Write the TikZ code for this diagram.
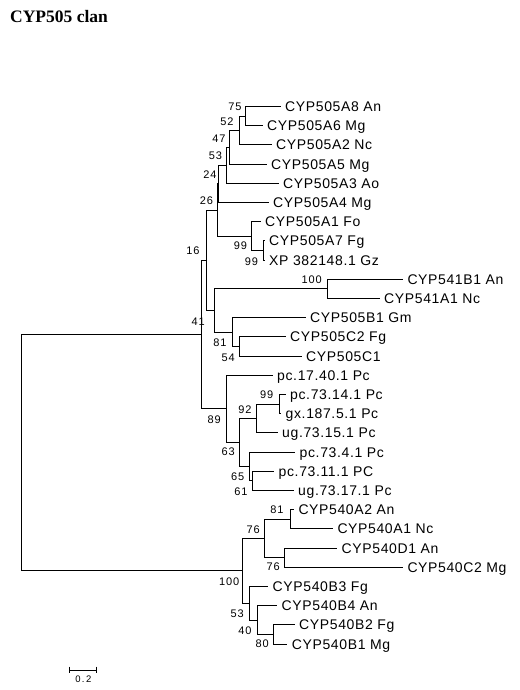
\documentclass[tikz,border=0pt]{standalone}
\usepackage{fontspec}
\newfontfamily\leaffont{Liberation Sans}[LetterSpace=4.5]
\newfontfamily\bsfont{Liberation Sans}[LetterSpace=8]
\newfontfamily\scalefont{Liberation Sans}[LetterSpace=15]
\newfontfamily\titlefont{Liberation Serif}
\tikzset{
  leaf/.style={anchor=west, inner xsep=4.5pt, inner ysep=0pt, text height=11pt, text depth=1pt,
    font=\leaffont\fontsize{14}{16}\selectfont},
  bs/.style={inner sep=0pt, font=\bsfont\fontsize{11}{12}\selectfont},
  br/.style={draw=black, line width=1pt},
}
\begin{document}
\begin{tikzpicture}[x=1pt,y=-1pt]
\useasboundingbox (0,0) rectangle (519,690);
\fill[white] (0,0) rectangle (519,690);
\node[anchor=base west, inner sep=0pt, font=\titlefont\bfseries\fontsize{17.5}{20}\selectfont] (title) at (10,22.5) {CYP505 clan};
% internal nodes
\coordinate (root) at (21.3,452.75);
\coordinate (R1) at (201.5,334.6);
\coordinate (N16) at (206.7,260.25);
\coordinate (N26) at (217,210);
\coordinate (N24) at (218.5,183.9);
\coordinate (N53) at (226.5,165.3);
\coordinate (N47) at (229.5,147.3);
\coordinate (N52) at (239,130.5);
\coordinate (N75) at (245,116.1);
\coordinate (N99a) at (251.7,236.1);
\coordinate (N99b) at (263,250.5);
\coordinate (N41) at (214.3,310.5);
\coordinate (N100u) at (327.7,288.9);
\coordinate (N81) at (232.3,332.1);
\coordinate (N54) at (239.3,346.5);
\coordinate (N89) at (226,408.9);
\coordinate (N63) at (239.3,442.5);
\coordinate (N92) at (256.7,418.5);
\coordinate (N99c) at (279.3,404.1);
\coordinate (N65) at (249.3,466.5);
\coordinate (N61) at (252.3,480.9);
\coordinate (L1) at (242.5,570.9);
\coordinate (N76a) at (264.3,538.5);
\coordinate (N81l) at (290.7,519.3);
\coordinate (N76b) at (284.5,557.7);
\coordinate (N53l) at (249.3,603.3);
\coordinate (N40) at (257.5,620.1);
\coordinate (N80) at (273.3,634.5);
% leaves
\node[leaf] (A8) at (280.5,106.5) {CYP505A8 An};
\node[leaf] (A6) at (262.5,125.7) {CYP505A6 Mg};
\node[leaf] (A2) at (271.5,144.9) {CYP505A2 Nc};
\node[leaf] (A5) at (266.5,164.1) {CYP505A5 Mg};
\node[leaf] (A3) at (278.5,183.3) {CYP505A3 Ao};
\node[leaf] (A4) at (268.5,202.5) {CYP505A4 Mg};
\node[leaf] (A1) at (260.5,221.7) {CYP505A1 Fo};
\node[leaf] (A7) at (264.5,240.9) {CYP505A7 Fg};
\node[leaf] (XP) at (264.5,260.1) {XP 382148.1 Gz};
\node[leaf] (B541) at (402.8,279.3) {CYP541B1 An};
\node[leaf] (A541) at (379.5,298.5) {CYP541A1 Nc};
\node[leaf] (B1g) at (305.5,317.7) {CYP505B1 Gm};
\node[leaf] (C2f) at (285.5,336.9) {CYP505C2 Fg};
\node[leaf] (C1) at (301.5,356.1) {CYP505C1};
\node[leaf] (p1) at (272.5,375.3) {pc.17.40.1 Pc};
\node[leaf] (p2) at (285.5,394.5) {pc.73.14.1 Pc};
\node[leaf] (p3) at (281,413.7) {gx.187.5.1 Pc};
\node[leaf] (p4) at (277.5,432.9) {ug.73.15.1 Pc};
\node[leaf] (p5) at (295,452.1) {pc.73.4.1 Pc};
\node[leaf] (p6) at (274,471.3) {pc.73.11.1 PC};
\node[leaf] (p7) at (293.5,490.5) {ug.73.17.1 Pc};
\node[leaf] (E1) at (293.8,509.7) {CYP540A2 An};
\node[leaf] (E2) at (332.8,528.9) {CYP540A1 Nc};
\node[leaf] (E3) at (337,548.1) {CYP540D1 An};
\node[leaf] (E4) at (402.8,567.3) {CYP540C2 Mg};
\node[leaf] (E5) at (268,586.5) {CYP540B3 Fg};
\node[leaf] (E6) at (277,605.7) {CYP540B4 An};
\node[leaf] (E7) at (294.5,624.9) {CYP540B2 Fg};
\node[leaf] (E8) at (287.2,644.1) {CYP540B1 Mg};
% branches
\draw[br] (root) |- (R1);
\draw[br] (root) |- (L1);
\draw[br] (R1) |- (N16);
\draw[br] (R1) |- (N89);
\draw[br] (N16) |- (N26);
\draw[br] (N16) |- (N41);
\draw[br] (N26) |- (N24);
\draw[br] (N26) |- (N99a);
\draw[br] (N24) |- (N53);
\draw[br] (N24) |- (A4.west);
\draw[br] (N53) |- (N47);
\draw[br] (N53) |- (A3.west);
\draw[br] (N47) |- (N52);
\draw[br] (N47) |- (A5.west);
\draw[br] (N52) |- (N75);
\draw[br] (N52) |- (A2.west);
\draw[br] (N75) |- (A8.west);
\draw[br] (N75) |- (A6.west);
\draw[br] (N99a) |- (A1.west);
\draw[br] (N99a) |- (N99b);
\draw[br] (N99b) |- (A7.west);
\draw[br] (N99b) |- (XP.west);
\draw[br] (N41) |- (N100u);
\draw[br] (N41) |- (N81);
\draw[br] (N100u) |- (B541.west);
\draw[br] (N100u) |- (A541.west);
\draw[br] (N81) |- (B1g.west);
\draw[br] (N81) |- (N54);
\draw[br] (N54) |- (C2f.west);
\draw[br] (N54) |- (C1.west);
\draw[br] (N89) |- (p1.west);
\draw[br] (N89) |- (N63);
\draw[br] (N63) |- (N92);
\draw[br] (N63) |- (N65);
\draw[br] (N92) |- (N99c);
\draw[br] (N92) |- (p4.west);
\draw[br] (N99c) |- (p2.west);
\draw[br] (N99c) |- (p3.west);
\draw[br] (N65) |- (p5.west);
\draw[br] (N65) |- (N61);
\draw[br] (N61) |- (p6.west);
\draw[br] (N61) |- (p7.west);
\draw[br] (L1) |- (N76a);
\draw[br] (L1) |- (N53l);
\draw[br] (N76a) |- (N81l);
\draw[br] (N76a) |- (N76b);
\draw[br] (N81l) |- (E1.west);
\draw[br] (N81l) |- (E2.west);
\draw[br] (N76b) |- (E3.west);
\draw[br] (N76b) |- (E4.west);
\draw[br] (N53l) |- (E5.west);
\draw[br] (N53l) |- (N40);
\draw[br] (N40) |- (E6.west);
\draw[br] (N40) |- (N80);
\draw[br] (N80) |- (E7.west);
\draw[br] (N80) |- (E8.west);
% bootstrap values
\node[bs] (b75) at (235,107) {75};
\node[bs] (b52) at (227,122) {52};
\node[bs] (b47) at (219,138.5) {47};
\node[bs] (b53) at (215.5,155.5) {53};
\node[bs] (b24) at (210,175) {24};
\node[bs] (b26) at (206.5,201) {26};
\node[bs] (b16) at (193,251) {16};
\node[bs] (b99a) at (240.5,246) {99};
\node[bs] (b99b) at (251.5,262) {99};
\node[bs] (b100u) at (311.7,280) {100};
\node[bs] (b41) at (198.3,321.7) {41};
\node[bs] (b81) at (220,342.7) {81};
\node[bs] (b54) at (228.3,357.7) {54};
\node[bs] (b99c) at (266.7,394.3) {99};
\node[bs] (b92) at (245,409.3) {92};
\node[bs] (b89) at (214.3,420) {89};
\node[bs] (b63) at (228.3,451.7) {63};
\node[bs] (b65) at (237.7,476.7) {65};
\node[bs] (b61) at (241,491.7) {61};
\node[bs] (b81l) at (277,509.5) {81};
\node[bs] (b76a) at (253.3,529.3) {76};
\node[bs] (b76b) at (273.3,566.7) {76};
\node[bs] (b100l) at (229.3,581.7) {100};
\node[bs] (b53l) at (237.3,613.3) {53};
\node[bs] (b40) at (245,630.5) {40};
\node[bs] (b80) at (262.3,644) {80};
% scale bar
\coordinate (s1) at (69.3,670);
\coordinate (s2) at (96.7,670);
\coordinate (s1t) at (69.3,666.7);
\coordinate (s1b) at (69.3,673.3);
\coordinate (s2t) at (96.7,666.7);
\coordinate (s2b) at (96.7,673.3);
\draw[br] (s1) -- (s2);
\draw[br] (s1t) -- (s1b);
\draw[br] (s2t) -- (s2b);
\node[inner sep=0pt, font=\scalefont\fontsize{9.5}{11}\selectfont] (sl) at (83.3,679.5) {0.2};
\end{tikzpicture}
\end{document}
